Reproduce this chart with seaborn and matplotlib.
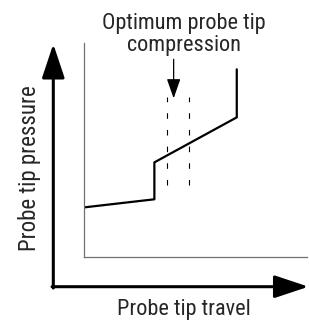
import matplotlib
matplotlib.use("Agg")
import matplotlib.pyplot as plt
import seaborn as sns
import pandas as pd
from matplotlib.patches import FancyArrowPatch

# ---- data (arbitrary units) ----
travel = [0.0, 3.16, 3.16, 6.86, 6.86]
pressure = [2.31, 2.69, 4.42, 6.53, 8.78]
optimum_lo = 3.74
optimum_hi = 4.71
optimum_y = [3.36, 7.50]
title_lines = "Optimum probe tip\ncompression"
xlabel = "Probe tip travel"
ylabel = "Probe tip pressure"

sns.set_style("white")
plt.rcParams['font.family'] = ['Roboto Condensed', 'DejaVu Sans']

W, H = 309, 322
fig = plt.figure(figsize=(W / 100, H / 100), dpi=100)
ax = fig.add_axes([84 / W, (H - 256.7) / H, (306.7 - 84) / W, (256.7 - 43.3) / H])

df = pd.DataFrame({"travel": travel, "pressure": pressure})
sns.lineplot(data=df, x="travel", y="pressure", sort=False, estimator=None,
             color="black", lw=1.6, ax=ax)

for xv in (optimum_lo, optimum_hi):
    ax.plot([xv, xv], optimum_y, color="black", lw=0.8, linestyle=(0, (5, 10)))

ax.set_xlim(0, 10)
ax.set_ylim(0, 10)
ax.set_xticks([])
ax.set_yticks([])
ax.set_xlabel("")
ax.set_ylabel("")
for s in ("top", "right"):
    ax.spines[s].set_visible(False)
for s in ("left", "bottom"):
    ax.spines[s].set_color("#707070")
    ax.spines[s].set_linewidth(0.9)

# title with down arrow
xc = (optimum_lo + optimum_hi) / 2
ax.annotate("", xy=(xc - 0.2, 7.42), xytext=(xc - 0.2, 9.25),
            arrowprops=dict(arrowstyle="-|>,head_length=1.0,head_width=0.35",
                            color="black", lw=0.9, mutation_scale=12,
                            shrinkA=0, shrinkB=0))
fig.text(184 / W, 1 - 34.5 / H, title_lines, ha="center", va="center",
         fontsize=16, linespacing=1.05)

# big outer axis arrows
x0, y0 = 53.3 / W, 1 - 286.7 / H
fig.patches.append(FancyArrowPatch((x0, y0 - 0.004), (x0, 1 - 44 / H),
                                   transform=fig.transFigure,
                                   arrowstyle="-|>,head_length=1.5,head_width=0.5",
                                   mutation_scale=14, color="black", lw=2.2,
                                   shrinkA=0, shrinkB=0))
fig.patches.append(FancyArrowPatch((x0 - 0.004, y0), (308.5 / W, y0),
                                   transform=fig.transFigure,
                                   arrowstyle="-|>,head_length=1.5,head_width=0.5",
                                   mutation_scale=14, color="black", lw=2.2,
                                   shrinkA=0, shrinkB=0))

fig.text(184 / W, 1 - 309 / H, xlabel, ha="center", va="center", fontsize=16)
fig.text(30 / W, 1 - 168 / H, ylabel, ha="center", va="center",
         fontsize=16.5, rotation=90)

fig.savefig("out.png", dpi=100)
